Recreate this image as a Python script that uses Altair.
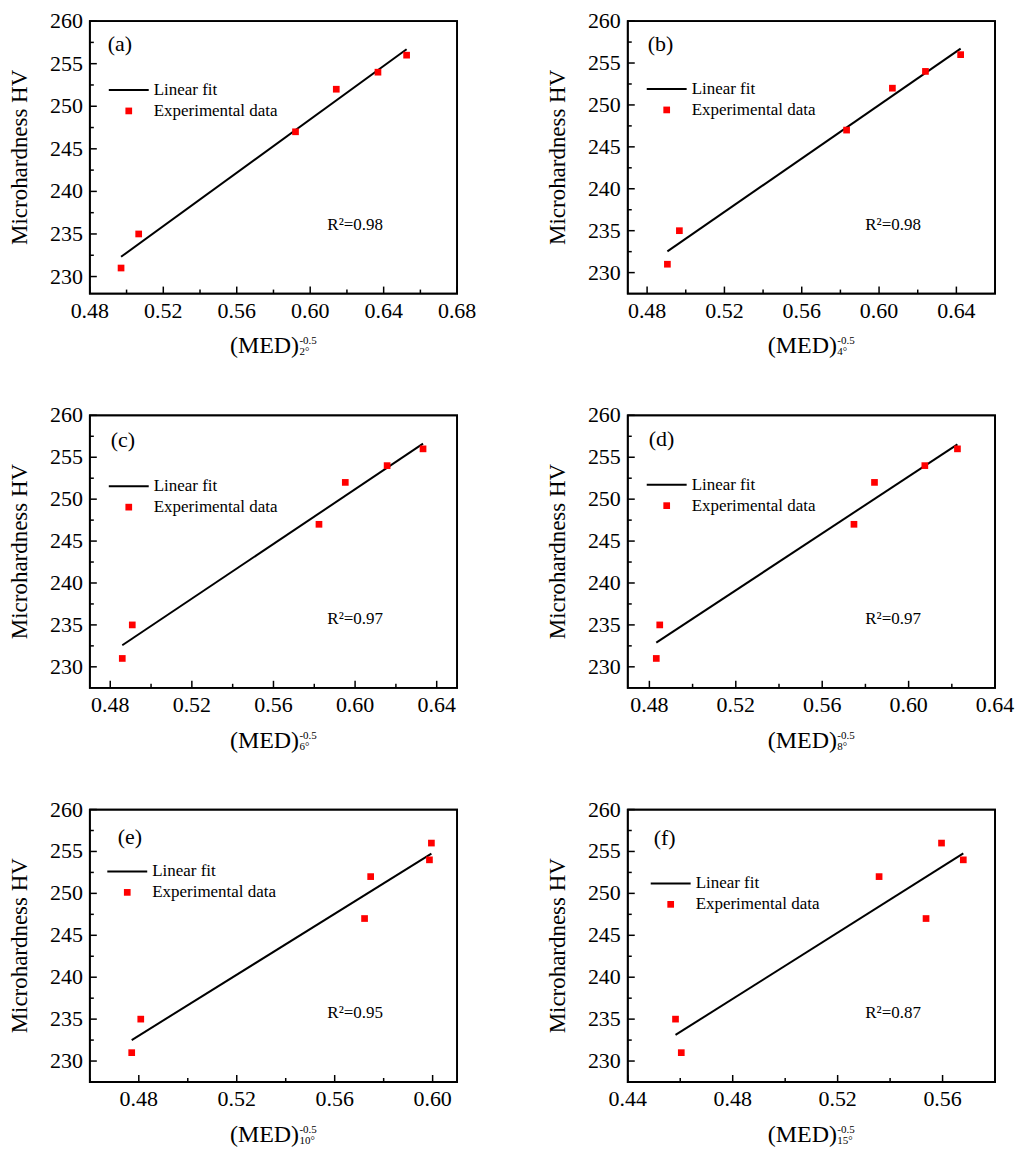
import altair as alt
import pandas as pd

# ---------------- data ----------------
HV = [231, 235, 247, 252, 254, 256]

MED_2 = [0.4970, 0.5066, 0.5920, 0.6142, 0.6369, 0.6525]
MED_4 = [0.4905, 0.4967, 0.5832, 0.6069, 0.6240, 0.6422]
MED_6 = [0.4859, 0.4908, 0.5823, 0.5952, 0.6157, 0.6333]
MED_8 = [0.4832, 0.4848, 0.5747, 0.5842, 0.6075, 0.6226]
MED_10 = [0.4771, 0.4808, 0.5722, 0.5747, 0.5987, 0.5995]
MED_15 = [0.4604, 0.4582, 0.5537, 0.5358, 0.5679, 0.5596]
MED_SERIES = [MED_2, MED_4, MED_6, MED_8, MED_10, MED_15]

PANEL_LABELS = ["(a)", "(b)", "(c)", "(d)", "(e)", "(f)"]
R2_LABELS = ["R²=0.98", "R²=0.98", "R²=0.97", "R²=0.97", "R²=0.95", "R²=0.87"]
ANGLE_LABELS = ["2°", "4°", "6°", "8°", "10°", "15°"]
EXPONENT_LABEL = "-0.5"
X_TITLE = "(MED)"
Y_TITLE = "Microhardness HV"
LEGEND_LABELS = ["Linear fit", "Experimental data"]

X_DOMAINS = [[0.48, 0.68], [0.47, 0.66], [0.47, 0.65], [0.47, 0.64], [0.46, 0.61], [0.44, 0.58]]
X_MAJOR = [
    [0.48, 0.52, 0.56, 0.60, 0.64, 0.68],
    [0.48, 0.52, 0.56, 0.60, 0.64],
    [0.48, 0.52, 0.56, 0.60, 0.64],
    [0.48, 0.52, 0.56, 0.60, 0.64],
    [0.48, 0.52, 0.56, 0.60],
    [0.44, 0.48, 0.52, 0.56],
]
X_MINOR = [
    [0.50, 0.54, 0.58, 0.62, 0.66],
    [0.50, 0.54, 0.58, 0.62, 0.66],
    [0.50, 0.54, 0.58, 0.62],
    [0.50, 0.54, 0.58, 0.62],
    [0.46, 0.50, 0.54, 0.58],
    [0.46, 0.50, 0.54, 0.58],
]
Y_DOMAINS = [[228, 260], [227.5, 260], [227.5, 260], [227.5, 260], [227.5, 260], [227.5, 260]]
Y_MAJOR = [230, 235, 240, 245, 250, 255, 260]
Y_MINOR = [232.5, 237.5, 242.5, 247.5, 252.5, 257.5]

# ---------------- layout / style ----------------
FONT = "Liberation Serif"
W, H = 368, 273
FRAME_W = 1.8
# per-panel offsets of legend block and panel letter (pixels)
LAYOUT = [
    dict(lx=0, ly=0, px=18, py=23),
    dict(lx=0, ly=-1, px=20, py=23),
    dict(lx=0, ly=2, px=21, py=25),
    dict(lx=0, ly=0.5, px=21, py=24),
    dict(lx=-1.5, ly=-7, px=28, py=28),
    dict(lx=4, ly=5, px=26, py=29),
]


def text_layer(label, x, y, size, align="left", angle=0):
    return alt.Chart(pd.DataFrame({"label": [label]})).mark_text(
        font=FONT, fontSize=size, color="black", align=align, baseline="middle", angle=angle
    ).encode(x=alt.value(x), y=alt.value(y), text=alt.Text("label:N"))


def panel(i):
    lay = LAYOUT[i]
    pts = pd.DataFrame({"x": MED_SERIES[i], "y": HV})
    xs = alt.Scale(domain=X_DOMAINS[i], nice=False, zero=False)
    ys = alt.Scale(domain=Y_DOMAINS[i], nice=False, zero=False)

    def X(field):
        return alt.X(field, scale=xs, axis=None)

    def Y(field):
        return alt.Y(field, scale=ys, axis=None)

    base = alt.Chart(pts)
    fit = base.transform_regression("x", "y").mark_line(color="black", strokeWidth=2).encode(
        x=X("x:Q"), y=Y("y:Q")
    )
    points = base.mark_square(size=45, color="#ff0000", opacity=1).encode(
        x=X("x:Q"), y=Y("y:Q")
    )

    def xticks(vals, length):
        return alt.Chart(pd.DataFrame({"t": vals})).mark_rule(color="black", strokeWidth=1.5).encode(
            x=X("t:Q"), y=alt.value(H), y2=alt.value(H - length)
        )

    def yticks(vals, length):
        return alt.Chart(pd.DataFrame({"t": vals})).mark_rule(color="black", strokeWidth=1.5).encode(
            y=Y("t:Q"), x=alt.value(0), x2=alt.value(length)
        )

    x_labels = alt.Chart(pd.DataFrame({"t": X_MAJOR[i]})).mark_text(
        font=FONT, fontSize=22, color="black", align="center", baseline="middle"
    ).encode(x=X("t:Q"), y=alt.value(H + 17), text=alt.Text("t:Q", format=".2f"))

    y_labels = alt.Chart(pd.DataFrame({"t": Y_MAJOR})).mark_text(
        font=FONT, fontSize=22, color="black", align="right", baseline="middle"
    ).encode(y=Y("t:Q"), x=alt.value(-7), text=alt.Text("t:Q", format="d"))

    frame = alt.Chart(pd.DataFrame({"label": ["frame"]})).mark_rect(
        filled=False, stroke="black", strokeWidth=FRAME_W, fillOpacity=0
    ).encode(x=alt.value(0), x2=alt.value(W), y=alt.value(0), y2=alt.value(H))

    lx, ly = lay["lx"], lay["ly"]
    leg_line = alt.Chart(pd.DataFrame({"label": [LEGEND_LABELS[0]]})).mark_rule(
        color="black", strokeWidth=2
    ).encode(x=alt.value(19 + lx), x2=alt.value(59 + lx), y=alt.value(69 + ly))
    leg_sq = alt.Chart(pd.DataFrame({"label": [LEGEND_LABELS[1]]})).mark_square(
        size=45, color="#ff0000", opacity=1
    ).encode(x=alt.value(39 + lx), y=alt.value(90 + ly))

    layers = [
        frame,
        xticks(X_MAJOR[i], 7), xticks(X_MINOR[i], 4),
        yticks(Y_MAJOR, 7), yticks(Y_MINOR, 4),
        fit, points,
        x_labels, y_labels,
        leg_line, leg_sq,
        text_layer(LEGEND_LABELS[0], 64 + lx, 69 + ly, 17),
        text_layer(LEGEND_LABELS[1], 64 + lx, 90 + ly, 17),
        text_layer(PANEL_LABELS[i], lay["px"], lay["py"], 22),
        text_layer(R2_LABELS[i], 238, 204, 17),
        text_layer(X_TITLE, 175, H + 53, 24, align="center"),
        text_layer(EXPONENT_LABEL, 210, H + 48, 11),
        text_layer(ANGLE_LABELS[i], 210, H + 59, 11),
        text_layer(Y_TITLE, -70, H / 2, 23, align="center", angle=270),
    ]
    return alt.layer(*layers).properties(width=W, height=H)


panels = [panel(i) for i in range(6)]

chart = alt.concat(
    *panels, columns=2, spacing={"row": 122, "column": 171}, bounds="flush"
).configure_view(
    stroke="black", strokeWidth=FRAME_W
).properties(
    padding={"left": 0, "top": 0, "right": 0, "bottom": 0},
    background="white",
)

chart.save("out.html", embed_options={"renderer": "svg", "actions": False})
